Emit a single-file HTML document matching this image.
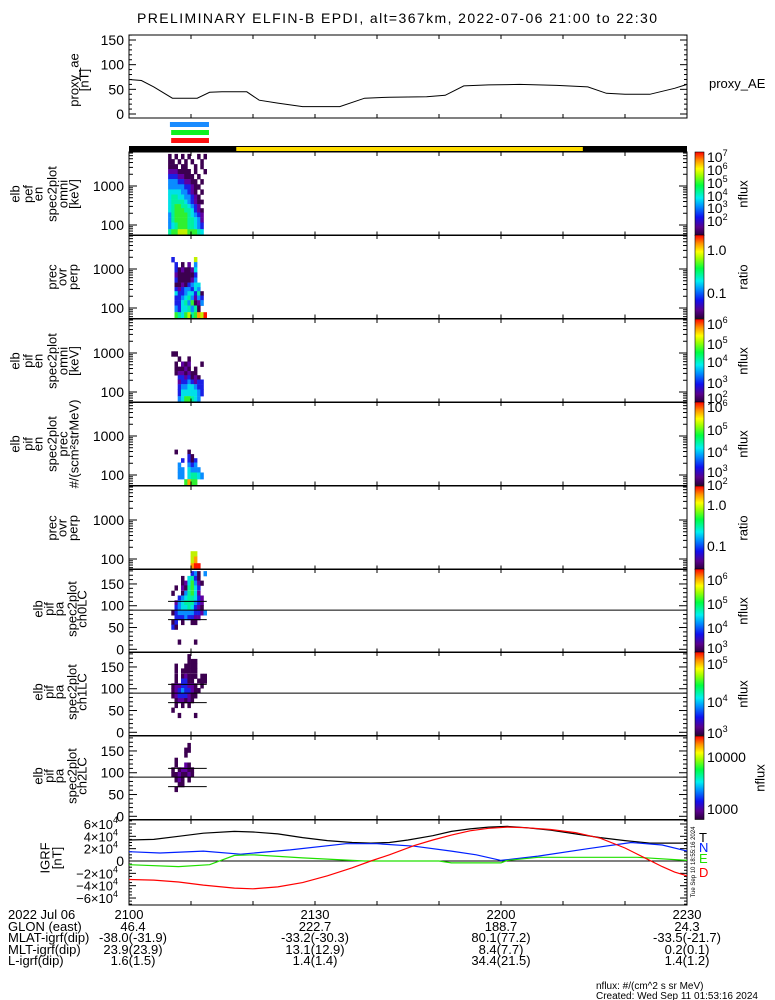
<!DOCTYPE html>
<html><head><meta charset="utf-8"><style>
html,body{margin:0;padding:0;background:#fff}
svg{display:block;font-family:"Liberation Sans",sans-serif}
</style></head><body>
<svg id="c" width="775" height="1000" viewBox="0 0 775 1000"></svg>
<script>
// ---------- data ----------
const aeTimes = [0,2,4,7,11,13,15,19,21,24,28,34,38,42,48,51,54,58,63,69,74,77,80,84,88,90];
const aeValues = [70,68,55,32,32,44,45,45,28,22,15,15,32,34,35,38,57,59,60,58,55,42,40,40,52,60];
const sunTimes = [17.3,73.2];
const scienceBars = [{t0:6.6,t1:12.9,c:'#1a8cff'},{t0:6.8,t1:12.9,c:'#10f020'},{t0:6.8,t1:12.9,c:'#ff1010'}];
const specTimes = [6.3,6.82,7.34,7.86,8.38,8.9,9.42,9.94,10.46,10.98,11.5,12.02];
const energies = [5700,4200,3150,2350,1750,1290,950,705,520,385,305,238,183,138,97,63];
const pitchAngles = [174,163,152,141,129,118,107,96,84,73,62,51,39,28,17,6];
const p1Vals = [
[1,0,1,0,1,0,1,0,0,1,0,1],[1,1,0,1,0,1,0,1,0,0,1,0],[1,1,1,0,1,1,0,0,1,0,1,0],[2,2,2,1,1,1,1,0,1,0,0,1],
[3,3,3,2,2,1,1,1,0,1,0,0],[4,4,4,3,3,2,2,1,1,0,1,0],[4,4,4,4,4,3,3,2,1,1,0,0],[5,5,5,5,4,4,3,2,1,0,1,0],
[5,6,6,5,5,4,4,3,2,1,0,0],[5,6,6,6,6,5,4,3,2,1,1,0],[5,6,7,7,6,6,5,4,3,2,0,0],[5,6,7,7,7,6,6,5,3,2,1,0],
[4,6,7,7,7,7,6,5,4,3,2,0],[4,6,7,7,7,7,6,6,5,4,2,0],[4,5,6,7,7,7,6,6,5,4,3,0],[6,7,7,8,8,8,7,7,7,6,5,0]];
const p2Vals = [
[0,0,0,0,0,0,0,0,0,0,0,0],[0,0,0,0,0,0,0,0,0,0,0,0],[0,0,0,0,0,0,0,0,0,0,0,0],[0,0,0,0,0,0,0,0,0,0,0,0],
[0,3,0,0,0,0,0,0,8,0,0,0],[0,0,3,0,1,0,2,0,4,0,0,0],[0,0,3,1,2,1,1,2,5,0,0,0],[0,0,2,1,1,1,1,1,3,0,0,0],
[0,0,3,1,1,1,1,2,4,0,0,0],[0,0,1,1,2,1,3,4,5,5,0,0],[0,0,3,2,3,4,4,3,5,4,0,0],[0,0,5,3,3,4,5,5,3,6,1,0],
[0,0,3,3,4,5,6,4,2,4,3,0],[0,0,3,3,5,6,4,7,1,2,4,0],[0,0,4,3,5,5,6,4,6,1,0,0],[0,0,7,6,5,7,8,6,7,9,8,10]];
const p3Vals = [
[0,0,0,0,0,0,0,0,0,0,0,0],[0,0,0,0,0,0,0,0,0,0,0,0],[0,0,0,0,0,0,0,0,0,0,0,0],[0,0,0,0,0,0,0,0,0,0,0,0],
[0,0,0,0,0,0,0,0,0,0,0,0],[0,0,0,0,0,0,0,0,0,0,0,0],[0,1,1,0,0,0,0,0,0,0,0,0],[0,0,0,1,0,0,1,0,0,0,0,0],
[0,0,1,0,2,1,2,0,0,0,1,0],[0,0,1,1,1,2,1,0,1,0,0,0],[0,0,1,2,2,1,2,1,1,0,0,0],[0,0,0,3,3,2,3,1,2,1,0,0],
[0,0,0,2,3,3,4,3,2,3,3,0],[0,0,0,3,4,4,5,5,4,3,3,0],[0,0,0,3,5,5,5,5,5,4,3,0],[0,0,0,4,5,7,7,6,5,4,0,0]];
const p4Vals = [
[0,0,0,0,0,0,0,0,0,0,0,0],[0,0,0,0,0,0,0,0,0,0,0,0],[0,0,0,0,0,0,0,0,0,0,0,0],[0,0,0,0,0,0,0,0,0,0,0,0],
[0,0,0,0,0,0,0,0,0,0,0,0],[0,0,0,0,0,0,0,0,0,0,0,0],[0,0,0,0,0,0,0,0,0,0,0,0],[0,0,0,0,0,0,0,0,0,0,0,0],
[0,0,0,0,0,0,0,0,0,0,0,0],[0,0,1,0,0,0,1,0,0,0,0,0],[0,0,0,0,0,0,3,1,0,0,0,0],[0,0,0,0,3,0,3,1,3,0,0,0],
[0,0,0,4,0,0,4,3,4,0,0,0],[0,0,0,4,4,0,5,4,4,4,0,0],[0,0,0,4,4,0,5,6,6,5,4,0],[0,0,0,0,0,7,9,7,7,0,0,0]];
const p5Vals = [
[0,0,0,0,0,0,0,0,0,0,0,0],[0,0,0,0,0,0,0,0,0,0,0,0],[0,0,0,0,0,0,0,0,0,0,0,0],[0,0,0,0,0,0,0,0,0,0,0,0],
[0,0,0,0,0,0,0,0,0,0,0,0],[0,0,0,0,0,0,0,0,0,0,0,0],[0,0,0,0,0,0,0,0,0,0,0,0],[0,0,0,0,0,0,0,0,0,0,0,0],
[0,0,0,0,0,0,0,0,0,0,0,0],[0,0,0,0,0,0,0,0,0,0,0,0],[0,0,0,0,0,0,0,0,0,0,0,0],[0,0,0,0,0,0,0,0,0,0,0,0],
[0,0,0,0,0,0,0,0,0,0,0,0],[0,0,0,0,0,0,0,8,8,0,0,0],[0,0,0,0,0,0,0,8,9,0,0,0],[0,0,0,0,0,0,0,9,10,10,0,0]];
const p6Vals = [
[0,0,0,0,0,0,0,3,4,1,0,4],[0,0,0,0,1,0,5,6,3,1,0,0],[0,0,0,0,1,2,5,7,4,2,1,0],[0,0,1,0,2,1,6,7,5,3,0,0],
[0,1,0,0,1,4,6,7,5,2,0,0],[0,0,0,3,4,5,6,6,5,3,2,0],[0,0,2,4,5,6,6,6,4,3,2,0],[0,0,3,4,5,5,6,5,3,2,1,0],
[0,1,3,4,4,4,4,4,3,3,2,4],[0,0,3,3,3,4,3,3,2,2,0,0],[0,1,3,0,1,0,0,1,1,0,0,0],[0,3,1,0,0,0,0,0,0,0,0,0],
[0,0,0,0,0,0,0,0,0,0,0,0],[0,0,0,0,0,0,0,0,0,0,0,0],[0,0,0,1,0,0,0,0,1,0,0,0],[0,0,0,0,0,0,0,0,0,0,0,0]];
const p7Vals = [
[0,0,0,0,0,0,1,0,0,0,0,0],[0,0,0,0,0,0,1,1,1,0,0,0],[0,0,1,0,0,1,1,1,1,0,0,0],[0,0,1,0,1,1,1,1,1,0,0,0],
[0,0,1,0,1,2,1,1,1,0,1,1],[0,0,1,0,3,3,1,1,0,1,1,1],[0,1,2,2,3,3,2,2,1,0,1,0],[0,1,2,3,4,3,3,2,1,1,0,0],
[0,1,2,3,3,3,2,1,1,0,0,0],[0,0,1,2,2,1,2,1,0,0,0,0],[0,0,1,0,1,0,1,0,0,0,0,0],[0,1,0,0,0,0,0,0,0,0,0,0],
[0,0,0,1,0,0,0,0,1,0,0,0],[0,0,0,0,0,0,0,0,0,0,0,0],[0,0,0,0,0,0,0,0,0,0,0,0],[0,0,0,0,0,0,0,0,0,0,0,0]];
const p8Vals = [
[0,0,0,0,0,0,0,0,0,0,0,0],[0,0,0,0,0,0,1,0,0,0,0,0],[0,0,0,0,0,1,1,0,0,0,0,0],[0,0,0,0,0,1,0,0,0,0,0,0],
[0,0,1,0,0,0,0,0,0,0,0,0],[0,0,1,0,0,2,1,0,0,0,0,0],[0,1,0,1,2,2,1,1,0,0,0,0],[0,1,1,2,1,1,2,1,0,0,0,0],
[0,0,1,2,1,0,1,0,0,0,0,0],[0,0,0,1,1,0,0,0,0,0,0,0],[0,0,1,0,0,0,0,0,0,0,0,0],[0,0,0,0,0,0,0,0,0,0,0,0],
[0,0,0,0,0,0,0,0,0,0,0,0],[0,0,0,0,0,0,0,0,0,0,0,0],[0,0,0,0,0,0,0,0,0,0,0,0],[0,0,0,0,0,0,0,0,0,0,0,0]];
const lcAngles = [110,68];
const igrfTimes = [0,4,8,12,17,20,24,28,32,36,39,42,45,49,52,55,58,61,64,68,72,76,80,84,87,90];
const igrfT = [3.4,3.5,4.0,4.5,4.8,4.7,4.4,3.8,3.3,3.0,2.9,3.0,3.4,4.1,4.8,5.2,5.5,5.6,5.4,5.0,4.4,3.8,3.3,2.9,2.9,2.9];
const igrfNTimes = [0,5,12,18,26,35,40,46,52,56,60,66,74,81,86,90];
const igrfN = [1.5,1.3,1.6,1.1,1.8,2.8,2.8,2.4,1.6,1.0,0.1,0.8,2.0,3.0,2.6,1.6];
const igrfETimes = [0,8,13,17,20,28,36,38,50,52,60,61,66,82,90];
const igrfE = [-0.6,-0.9,-0.6,0.9,1.0,0.5,0.1,0,0,-0.3,-0.3,0.1,0.6,0.6,0.1];
const igrfDTimes = [0,4,8,12,17,20,24,28,32,36,39,42,46,49,52,55,58,61,64,68,72,76,80,83,86,88,90];
const igrfD = [-3.0,-3.1,-3.4,-3.9,-4.4,-4.5,-4.2,-3.5,-2.4,-1.1,0,1.0,2.5,3.4,4.2,4.9,5.3,5.5,5.4,5.1,4.6,3.7,2.1,0.6,-0.9,-1.8,-2.4];
const timeLabels = ['2100','2130','2200','2230'];
const timeLabelMin = [0,30,60,90];
const glon = ['46.4','222.7','188.7','24.3'];
const mlat = ['-38.0(-31.9)','-33.2(-30.3)','80.1(77.2)','-33.5(-21.7)'];
const mlt = ['23.9(23.9)','13.1(12.9)','8.4(7.7)','0.2(0.1)'];
const lshell = ['1.6(1.5)','1.4(1.4)','34.4(21.5)','1.4(1.2)'];

// ---------- helpers ----------
const NS='http://www.w3.org/2000/svg';
const svg=document.getElementById('c');
function mk(tag,attrs,parent,txt){const e=document.createElementNS(NS,tag);for(const k in attrs)e.setAttribute(k,attrs[k]);if(txt!==undefined)e.textContent=txt;(parent||svg).appendChild(e);return e;}
const X0=129,X1=687;
const xT=t=>X0+(X1-X0)*t/90;
const levelColors=['','#3c0050','#6000a0','#1a20e6','#0a8cff','#00e0e8','#00f0a0','#30f030','#c0f000','#ffa000','#ff1400'];

let e=mk('text',{x:397,y:23,'text-anchor':'middle','font-size':14,textLength:520},svg,'PRELIMINARY ELFIN-B EPDI, alt=367km, 2022-07-06 21:00 to 22:30');


function vlabel(lines,xs,cy,name){
  const g=mk('g',{});
  lines.forEach((s,i)=>{mk('text',{x:0,y:0,transform:`translate(${xs[i]},${cy}) rotate(-90)`,'text-anchor':'middle','dominant-baseline':'central','font-size':13},g,s);});
}
function timeTicks(g,top,bot){
  for(let m=0;m<=90;m+=10){const x=xT(m);mk('line',{x1:x,x2:x,y1:top,y2:top+4,stroke:'#000'},g);mk('line',{x1:x,x2:x,y1:bot,y2:bot-4,stroke:'#000'},g);}
}
function box(g,top,bot){mk('rect',{x:X0,y:top,width:X1-X0,height:bot-top,fill:'none',stroke:'#000','stroke-width':1},g);}

{
const top=35,bot=118,g=mk('g',{});
const yA=v=>114-v*0.4933;
box(g,top,bot);timeTicks(g,top,bot);
for(let v=0;v<=160;v+=10){const y=yA(v),L=v%50?3:7;mk('line',{x1:X0,x2:X0+L,y1:y,y2:y,stroke:'#000'},g);mk('line',{x1:X1,x2:X1-L,y1:y,y2:y,stroke:'#000'},g);}
[0,50,100,150].forEach(v=>mk('text',{x:124,y:yA(v)+5,'text-anchor':'end','font-size':14},g,String(v)));
const d=aeTimes.map((t,i)=>(i?'L':'M')+xT(t).toFixed(1)+','+yA(aeValues[i]).toFixed(1)).join('');
const p=mk('path',{d:d,fill:'none',stroke:'#000','stroke-width':1},g);
mk('text',{x:709,y:88,'font-size':13},g,'proxy_AE');
vlabel(['proxy_ae','[nT]'],[74,84],80,'proxy-ae-axis-title');
}
scienceBars.forEach((b,i)=>{const r=mk('rect',{x:xT(b.t0),y:122+i*8,width:xT(b.t1)-xT(b.t0),height:5,fill:b.c});});
{const r=mk('rect',{x:X0,y:146,width:X1-X0,height:6,fill:'#000'});
const s=mk('rect',{x:xT(sunTimes[0]),y:147,width:xT(sunTimes[1])-xT(sunTimes[0]),height:4,fill:'#ffdd00'});}

const colW=(specTimes[1]-specTimes[0]);
function energyEdges(){const ed=[];for(let i=0;i<energies.length;i++){const up=i?Math.sqrt(energies[i]*energies[i-1]):energies[0]*energies[0]/Math.sqrt(energies[0]*energies[1]);const lo=i<energies.length-1?Math.sqrt(energies[i]*energies[i+1]):energies[i]*energies[i]/Math.sqrt(energies[i]*energies[i-1]);ed.push([up,lo]);}return ed;}
const eEdges=energyEdges();
const panels=[
 {top:152,vals:p1Vals,type:'e',lab:['elb','pef','en','spec2plot','omni','[keV]'],lx:[15,28,38,52,63,74],cb:{labs:[['10','7',157],['10','6',170],['10','5',183],['10','4',196],['10','3',208],['10','2',221]],name:'nflux'},name:'pef-omni-spectrogram'},
 {top:235,vals:p2Vals,type:'e',lab:['prec','ovr','perp'],lx:[52,62,73],cb:{labs:[['1.0','',250],['0.1','',293]],name:'ratio'},name:'pef-prec-ratio-spectrogram'},
 {top:319,vals:p3Vals,type:'e',lab:['elb','pif','en','spec2plot','omni','[keV]'],lx:[15,28,38,52,63,74],cb:{labs:[['10','6',324],['10','5',344],['10','4',362],['10','3',383],['10','2',398]],name:'nflux'},name:'pif-omni-spectrogram'},
 {top:402,vals:p4Vals,type:'e',lab:['elb','pif','en','spec2plot','prec','#/(scm²strMeV)'],lx:[15,28,38,52,63,74],cb:{labs:[['10','6',407],['10','5',430],['10','4',452],['10','3',472],['10','2',485]],name:'nflux'},name:'pif-prec-spectrogram'},
 {top:486,vals:p5Vals,type:'e',lab:['prec','ovr','perp'],lx:[52,62,73],cb:{labs:[['1.0','',505],['0.1','',546]],name:'ratio'},name:'pif-prec-ratio-spectrogram'},
 {top:569,vals:p6Vals,type:'p',lab:['elb','pif','pa','spec2plot','ch0LC'],lx:[38,49,59,72,82],cb:{labs:[['10','6',580],['10','5',604],['10','4',628],['10','3',648]],name:'nflux'},name:'pa-ch0-spectrogram'},
 {top:652,vals:p7Vals,type:'p',lab:['elb','pif','pa','spec2plot','ch1LC'],lx:[38,49,59,72,82],cb:{labs:[['10','5',664],['10','4',702],['10','3',733]],name:'nflux'},name:'pa-ch1-spectrogram'},
 {top:736,vals:p8Vals,type:'p',lab:['elb','pif','pa','spec2plot','ch2LC'],lx:[38,49,59,72,82],cb:{labs:[['10000','',757],['1000','',809]],name:'nflux'},name:'pa-ch2-spectrogram'}
];
panels.forEach((P,pi)=>{
  const top=P.top,bot=top+83.5;
  const g=mk('g',{});
  const yE=E=>top+34+(3-Math.log10(E))*39;
  const yP=a=>top+80.3-a*0.4356;
  P.vals.forEach((row,ri)=>{row.forEach((v,ci)=>{if(!v)return;
    let y1,y2;
    if(P.type==='e'){y1=yE(eEdges[ri][0]);y2=yE(eEdges[ri][1]);}else{y1=yP(pitchAngles[ri]+5.6);y2=yP(pitchAngles[ri]-5.6);}
    y1=Math.max(y1,top);y2=Math.min(y2,bot);
    const x=xT(specTimes[ci]);
    const r=mk('rect',{x:x.toFixed(1),y:y1.toFixed(1),width:(xT(specTimes[ci]+colW)-x+0.3).toFixed(1),height:(y2-y1+0.3).toFixed(1),fill:levelColors[v]},g);
    
    
  });});
  box(g,top,bot);timeTicks(g,top,bot);
  if(P.type==='e'){
    for(let dec=1;dec<=3;dec++)for(let k=1;k<=9;k++){const E=k*Math.pow(10,dec);const y=yE(E);if(y<top||y>bot)continue;const L=k===1?8:4;mk('line',{x1:X0,x2:X0+L,y1:y,y2:y,stroke:'#000'},g);mk('line',{x1:X1,x2:X1-L,y1:y,y2:y,stroke:'#000'},g);}
    [[1000,'1000'],[100,'100']].forEach(([E,s])=>mk('text',{x:124,y:yE(E)+5,'text-anchor':'end','font-size':14},g,s));
  } else {
    for(let a=0;a<=180;a+=10){const y=yP(a);if(y<top||y>bot)continue;const L=a%50?4:8;mk('line',{x1:X0,x2:X0+L,y1:y,y2:y,stroke:'#000'},g);mk('line',{x1:X1,x2:X1-L,y1:y,y2:y,stroke:'#000'},g);}
    [0,50,100,150].forEach(a=>mk('text',{x:124,y:yP(a)+5,'text-anchor':'end','font-size':14},g,String(a)));
    const h=mk('line',{x1:X0,x2:X1,y1:yP(90),y2:yP(90),stroke:'#000'},g);
    lcAngles.forEach(a=>{const l=mk('line',{x1:xT(specTimes[0]),x2:xT(specTimes[11]+colW),y1:yP(a),y2:yP(a),stroke:'#000'},g);});
  }
  vlabel(P.lab,P.lx,pi<5?top+42:top+40,P.name+'-axis-title');
  const cg=mk('g',{});
  mk('rect',{x:695,y:top,width:9,height:83.5,fill:'url(#rainbow)',stroke:'#000','stroke-width':0.6},cg);
  P.cb.labs.forEach(([b,sup,y])=>{const t=mk('text',{x:707,y:y+5,'font-size':14},cg,b);if(sup){mk('tspan',{dy:-6,'font-size':9},t,sup);}});
  mk('text',{x:0,y:0,transform:`translate(${pi===7?760:743},${top+42}) rotate(-90)`,'text-anchor':'middle','dominant-baseline':'central','font-size':13},cg,P.cb.name);
});
{const defs=mk('defs',{});const lg=mk('linearGradient',{id:'rainbow',x1:0,y1:1,x2:0,y2:0},defs);
[['0','#2a003a'],['0.1','#5a008c'],['0.22','#1010f0'],['0.35','#0090ff'],['0.45','#00f0f0'],['0.6','#00ff40'],['0.72','#a0ff00'],['0.8','#ffff00'],['0.9','#ff9000'],['1','#ff0000']].forEach(([o,c])=>mk('stop',{offset:o,'stop-color':c},lg));}

{
const top=820,bot=905,g=mk('g',{});
const yB=v=>861-v*6.17;
box(g,top,bot);timeTicks(g,top,bot);
for(let v=-7;v<=7;v+=0.5){const y=yB(v);if(y<top||y>bot)continue;const L=Number.isInteger(v/2)?7:3;mk('line',{x1:X0,x2:X0+L,y1:y,y2:y,stroke:'#000'},g);mk('line',{x1:X1,x2:X1-L,y1:y,y2:y,stroke:'#000'},g);}
[6,4,2,-2,-4,-6].forEach(v=>{const t=mk('text',{x:118,y:yB(v)+5,'text-anchor':'end','font-size':13},g,(v<0?'−':'')+Math.abs(v)+'×10');mk('tspan',{dy:-6,'font-size':9},t,'4');});
mk('text',{x:124,y:yB(0)+5,'text-anchor':'end','font-size':14},g,'0');
mk('line',{x1:X0,x2:X1,y1:yB(0),y2:yB(0),stroke:'#000'},g);
const series=[[igrfTimes,igrfT,'#000','igrf-total-line'],[igrfNTimes,igrfN,'#0020ff','igrf-north-line'],[igrfETimes,igrfE,'#20e000','igrf-east-line'],[igrfDTimes,igrfD,'#ff0000','igrf-down-line']];
series.forEach(([ts,vs,c,n])=>{const d=ts.map((t,i)=>(i?'L':'M')+xT(t).toFixed(1)+','+yB(vs[i]).toFixed(1)).join('');const p=mk('path',{d:d,fill:'none',stroke:c,'stroke-width':1.2},g);});
[['T','#000',842],['N','#0020ff',852],['E','#20e000',863],['D','#ff0000',877]].forEach(([s,c,y])=>{const t=mk('text',{x:699,y:y,'font-size':13,fill:c},g,s);});
mk('text',{x:0,y:0,transform:'translate(694,862) rotate(-90)','text-anchor':'middle','dominant-baseline':'central','font-size':6},g,'Tue Sep 10 18:55:16 2024');
vlabel(['IGRF','[nT]'],[45,57],858,'igrf-axis-title');
}
{
const g=mk('g',{});
const rows=[['2022 Jul 06',timeLabels,919],['GLON (east)',glon,931],['MLAT-igrf(dip)',mlat,942],['MLT-igrf(dip)',mlt,954],['L-igrf(dip)',lshell,965]];
rows.forEach(([lab,vals,y])=>{mk('text',{x:8,y:y,'font-size':13},g,lab);vals.forEach((v,i)=>mk('text',{x:xT(timeLabelMin[i])+(i===0&&lab!=='2022 Jul 06'?4:0),y:y,'text-anchor':'middle','font-size':13},g,v));});
mk('text',{x:596,y:989,'font-size':10},g,'nflux: #/(cm^2 s sr MeV)');
mk('text',{x:596,y:999,'font-size':10},g,'Created: Wed Sep 11 01:53:16 2024');
}
</script>
</body></html>
